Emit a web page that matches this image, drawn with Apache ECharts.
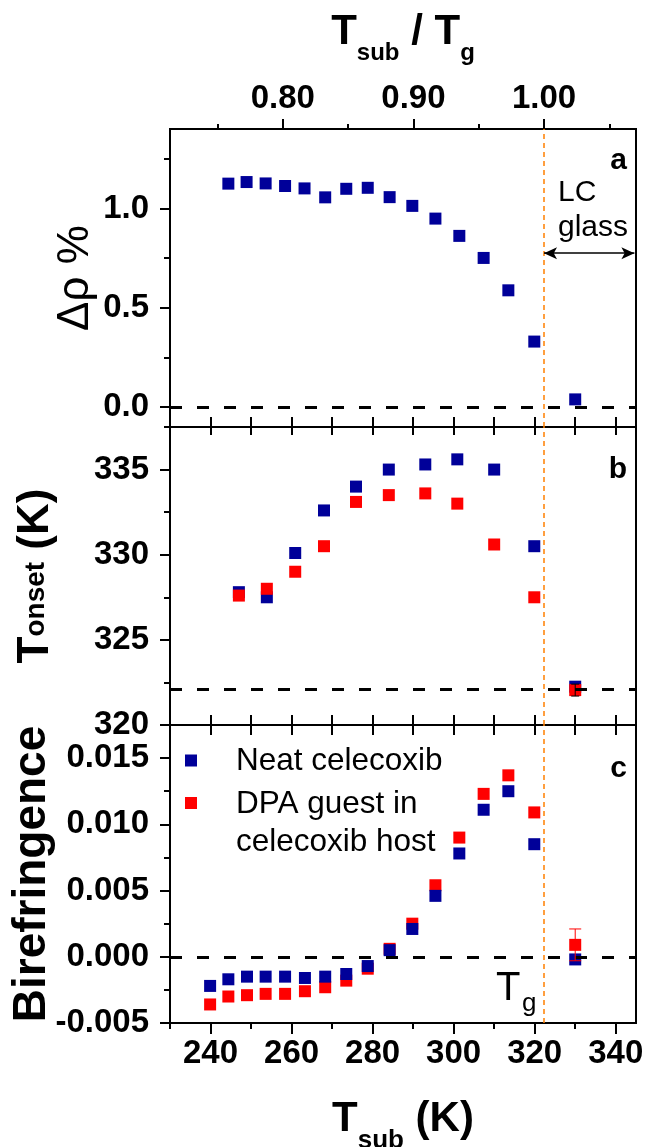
<!DOCTYPE html>
<html>
<head>
<meta charset="utf-8">
<script src="https://cdn.jsdelivr.net/npm/echarts@6/dist/echarts.min.js"></script>
<style>
  html, body { margin: 0; padding: 0; background: #ffffff; }
  #chart { width: 648px; height: 1147px; }
</style>
</head>
<body>
<div id="chart"></div>
<script>
// Glass transition temperature of celecoxib (K)
const TG = 322.3;

// Panel a: density change of vapour-deposited neat celecoxib
const tempA = [244.4, 248.9, 253.6, 258.4, 263.2, 268.3, 273.5, 278.8, 284.2, 289.8, 295.5, 301.4, 307.4, 313.5, 319.9, 330.0];
const densityA = [1.125, 1.133, 1.126, 1.113, 1.101, 1.056, 1.099, 1.104, 1.057, 1.013, 0.949, 0.862, 0.751, 0.588, 0.330, 0.039];

// Panel b: onset temperature
const tempB = [247.0, 253.9, 260.9, 268.0, 275.9, 284.0, 293.0, 300.9, 310.0, 319.9, 330.0];
const onsetNeat = [327.8, 327.5, 330.1, 332.6, 334.0, 335.0, 335.3, 335.6, 335.0, 330.5, 322.25];
const onsetDPA = [327.6, 328.0, 329.0, 330.5, 333.1, 333.5, 333.6, 333.0, 330.6, 327.5, 322.05];
const onsetGlassErr = 0.35;
const onsetGlassLevel = 322.1;

// Panel c: birefringence
const tempC = [239.9, 244.4, 249.0, 253.6, 258.4, 263.3, 268.3, 273.5, 278.8, 284.2, 289.8, 295.5, 301.4, 307.4, 313.5, 319.9, 330.0];
const biNeat = [-0.0022, -0.0017, -0.0015, -0.0015, -0.0015, -0.0016, -0.0015, -0.0013, -0.0007, 0.0005, 0.0021, 0.0046, 0.0078, 0.0111, 0.0125, 0.0085, -0.0002];
const biDPA = [-0.0036, -0.0030, -0.0029, -0.0028, -0.0028, -0.0026, -0.0023, -0.0018, -0.0009, 0.0006, 0.0025, 0.0054, 0.0090, 0.0123, 0.0137, 0.0109, 0.0009];
const biGlassErr = 0.0012;

// Tick positions and labels
const kMajor = [240, 260, 280, 300, 320, 340];
const kMinor = [230, 250, 270, 290, 310, 330];
const ratioMajor = [0.80, 0.90, 1.00];
const ratioMinor = [0.75, 0.85, 0.95, 1.05];
const densMajor = [0.0, 0.5, 1.0];
const densMinor = [0.25, 0.75, 1.25];
const onsetMajor = [320, 325, 330, 335];
const onsetMinor = [322.5, 327.5, 332.5, 337.5];
const biMajor = [-0.005, 0.000, 0.005, 0.010, 0.015];
const biMinor = [-0.0025, 0.0025, 0.0075, 0.0125];

const seriesNames = ['Neat celecoxib', 'DPA guest in', 'celecoxib host'];

const FONT = "'Liberation Sans', Arial, Helvetica, sans-serif";
const BLUE = '#000099';
const RED = '#ff0000';
const ORANGE = '#ff8000';
const BLACK = '#000000';

const K_MIN = 230, K_MAX = 345;
const GRID_TOPS = [129, 427, 725];
const GRID_H = 298;

function pairs(xs, ys) { return xs.map((x, i) => [x, ys[i]]); }

const tickLabel = { fontSize: 33, fontWeight: 'bold', fontFamily: FONT, color: BLACK };
const axisLine = { show: true, onZero: false, lineStyle: { color: BLACK, width: 2 } };

function innerKAxis(grid, position, len) {
  return {
    type: 'value', gridIndex: grid, position, min: K_MIN, max: K_MAX, interval: 10,
    axisLine, splitLine: { show: false },
    axisTick: { show: true, inside: true, length: len, lineStyle: { color: BLACK, width: 2 } },
    axisLabel: { show: false }
  };
}

function minorAxis(base, values, len) {
  return Object.assign({}, base, {
    axisLine: { show: false, onZero: false }, splitLine: { show: false },
    axisTick: { show: true, length: len, customValues: values, lineStyle: { color: BLACK, width: 2 } },
    axisLabel: { show: false }, name: ''
  });
}

const ratioBase = { type: 'value', gridIndex: 0, position: 'top', min: K_MIN / TG, max: K_MAX / TG };
const kBottomBase = { type: 'value', gridIndex: 2, position: 'bottom', min: K_MIN, max: K_MAX };

const xAxes = [
  innerKAxis(0, 'bottom', 10),
  Object.assign({}, ratioBase, {
    axisLine, splitLine: { show: false },
    axisTick: { show: true, length: 10, customValues: ratioMajor, lineStyle: { color: BLACK, width: 2 } },
    axisLabel: Object.assign({ customValues: ratioMajor, margin: 14, formatter: v => v.toFixed(2) }, tickLabel),
    name: '{t|T}{s|sub}{t| / T}{s|g}', nameLocation: 'middle', nameGap: 64, nameMoveOverlap: false,
    nameTextStyle: { rich: {
      t: { fontSize: 42, fontWeight: 'bold', fontFamily: FONT, color: BLACK },
      s: { fontSize: 24, fontWeight: 'bold', fontFamily: FONT, color: BLACK, padding: [42, 0, 0, 0] }
    } }
  }),
  minorAxis(ratioBase, ratioMinor, 5),
  innerKAxis(1, 'bottom', 10),
  innerKAxis(1, 'top', 8),
  innerKAxis(2, 'top', 10),
  Object.assign({}, kBottomBase, {
    axisLine, splitLine: { show: false },
    axisTick: { show: true, length: 11, customValues: kMajor, lineStyle: { color: BLACK, width: 2 } },
    axisLabel: Object.assign({ customValues: kMajor, margin: 14 }, tickLabel),
    name: '{t|T}{s|sub}{t| (K)}', nameLocation: 'middle', nameGap: 62, nameMoveOverlap: false,
    nameTextStyle: { rich: {
      t: { fontSize: 42, fontWeight: 'bold', fontFamily: FONT, color: BLACK },
      s: { fontSize: 26, fontWeight: 'bold', fontFamily: FONT, color: BLACK, padding: [43, 0, 0, 0] }
    } }
  }),
  minorAxis(kBottomBase, kMinor, 6)
];

function yAxisPair(grid, min, max, major, minor, digits, name, nameGap, nameStyle) {
  const base = { type: 'value', gridIndex: grid, position: 'left', min, max };
  return [
    Object.assign({}, base, {
      axisLine, splitLine: { show: false },
      axisTick: { show: true, length: 10, customValues: major, lineStyle: { color: BLACK, width: 2 } },
      axisLabel: Object.assign({ customValues: major, margin: 21, formatter: v => v.toFixed(digits) }, tickLabel),
      name, nameLocation: 'middle', nameRotate: 90, nameGap, nameMoveOverlap: false, nameTextStyle: nameStyle
    }),
    minorAxis(base, minor, 6)
  ];
}

const yAxes = [].concat(
  yAxisPair(0, -0.1, 1.4, densMajor, densMinor, 1, 'Δρ %', 72,
    { fontSize: 44, fontWeight: 'normal', fontFamily: FONT, color: BLACK }),
  yAxisPair(1, 320, 337.5, onsetMajor, onsetMinor, 0, '{t|T}{s|onset}{t| (K)}', 112,
    { rich: {
      t: { fontSize: 44, fontWeight: 'bold', fontFamily: FONT, color: BLACK },
      s: { fontSize: 28, fontWeight: 'bold', fontFamily: FONT, color: BLACK }
    } }),
  yAxisPair(2, -0.005, 0.0175, biMajor, biMinor, 3, 'Birefringence', 115,
    { fontSize: 46, fontWeight: 'bold', fontFamily: FONT, color: BLACK })
);

const tgLine = { xAxis: TG, lineStyle: { color: ORANGE, width: 1.5, type: [5, 4] } };
function zeroLine(v) { return { yAxis: v, lineStyle: { color: BLACK, width: 3, type: [12, 15] } }; }
function marks(data) {
  return { silent: true, symbol: 'none', animation: false, label: { show: false }, data };
}

function errorBar(capHalf, color) {
  return function (params, api) {
    const x = api.value(0), y = api.value(1), e = api.value(2);
    const top = api.coord([x, y + e]);
    const bot = api.coord([x, y - e]);
    const st = { stroke: color, lineWidth: 1 };
    return { type: 'group', children: [
      { type: 'line', shape: { x1: top[0], y1: top[1], x2: bot[0], y2: bot[1] }, style: st },
      { type: 'line', shape: { x1: top[0] - capHalf, y1: top[1], x2: top[0] + capHalf, y2: top[1] }, style: st },
      { type: 'line', shape: { x1: bot[0] - capHalf, y1: bot[1], x2: bot[0] + capHalf, y2: bot[1] }, style: st }
    ] };
  };
}

const marker = { type: 'scatter', symbol: 'rect', symbolSize: 12 };
function fill(color) { return { color, opacity: 1 }; }
const lcArrowY = 0.775;

const series = [
  // a
  Object.assign({}, marker, {
    name: seriesNames[0], xAxisIndex: 0, yAxisIndex: 0, data: pairs(tempA, densityA),
    itemStyle: fill(BLUE),
    markLine: marks([
      tgLine, zeroLine(0),
      [
        { coord: [TG, lcArrowY], symbol: 'arrow', symbolSize: [9, 13], lineStyle: { color: BLACK, width: 1.5, type: 'solid' } },
        { coord: [344.6, lcArrowY], symbol: 'arrow', symbolSize: [9, 13] }
      ]
    ])
  }),
  // b
  Object.assign({}, marker, {
    name: seriesNames[0], xAxisIndex: 3, yAxisIndex: 2, data: pairs(tempB, onsetNeat),
    itemStyle: fill(BLUE),
    markLine: marks([tgLine, zeroLine(onsetGlassLevel)])
  }),
  Object.assign({}, marker, {
    name: seriesNames[1], xAxisIndex: 3, yAxisIndex: 2, data: pairs(tempB, onsetDPA),
    itemStyle: fill(RED)
  }),
  {
    type: 'custom', xAxisIndex: 3, yAxisIndex: 2, silent: true, z: 5,
    encode: { x: 0, y: 1 },
    data: [[tempB[tempB.length - 1], onsetDPA[onsetDPA.length - 1], onsetGlassErr]],
    renderItem: errorBar(4, BLACK)
  },
  // c
  Object.assign({}, marker, {
    name: seriesNames[1], xAxisIndex: 6, yAxisIndex: 4, data: pairs(tempC, biDPA),
    itemStyle: fill(RED),
    markLine: marks([tgLine, zeroLine(0)])
  }),
  Object.assign({}, marker, {
    name: seriesNames[0], xAxisIndex: 6, yAxisIndex: 4, data: pairs(tempC, biNeat),
    itemStyle: fill(BLUE)
  }),
  {
    type: 'custom', xAxisIndex: 6, yAxisIndex: 4, silent: true, z: 5,
    encode: { x: 0, y: 1 },
    data: [[tempC[tempC.length - 1], biDPA[biDPA.length - 1], biGlassErr]],
    renderItem: errorBar(6, RED)
  }
];

function label(text, x, y, size, weight, align) {
  return {
    type: 'text', x, y, silent: true,
    style: { text, fontSize: size, fontWeight: weight, fontFamily: FONT, fill: BLACK,
             align: align || 'left', verticalAlign: 'middle' }
  };
}

const graphic = [
  label('a', 627, 161, 30, 'bold', 'right'),
  label('b', 627, 470, 30, 'bold', 'right'),
  label('c', 627, 769, 30, 'bold', 'right'),
  label('LC', 558, 193, 30, 'normal'),
  label('glass', 558, 228, 30, 'normal'),
  label('T', 496, 989, 40, 'normal'),
  label('g', 522, 1004, 26, 'normal'),
  { type: 'rect', silent: true, shape: { x: 185, y: 754.5, width: 12, height: 12 }, style: { fill: BLUE } },
  { type: 'rect', silent: true, shape: { x: 185, y: 797, width: 12, height: 12 }, style: { fill: RED } },
  label(seriesNames[0], 236, 761, 31.5, 'normal'),
  label(seriesNames[1], 236, 804, 31.5, 'normal'),
  label(seriesNames[2], 236, 842, 31.5, 'normal')
];

const chart = echarts.init(document.getElementById('chart'), null, { renderer: 'canvas' });
chart.setOption({
  animation: false,
  backgroundColor: '#ffffff',
  grid: GRID_TOPS.map(t => ({
    left: 170, right: 12, top: t, height: GRID_H, show: true,
    borderColor: BLACK, borderWidth: 2, backgroundColor: 'transparent',
    containLabel: false, outerBoundsMode: 'none'
  })),
  xAxis: xAxes,
  yAxis: yAxes,
  series,
  graphic
});
</script>
</body>
</html>
